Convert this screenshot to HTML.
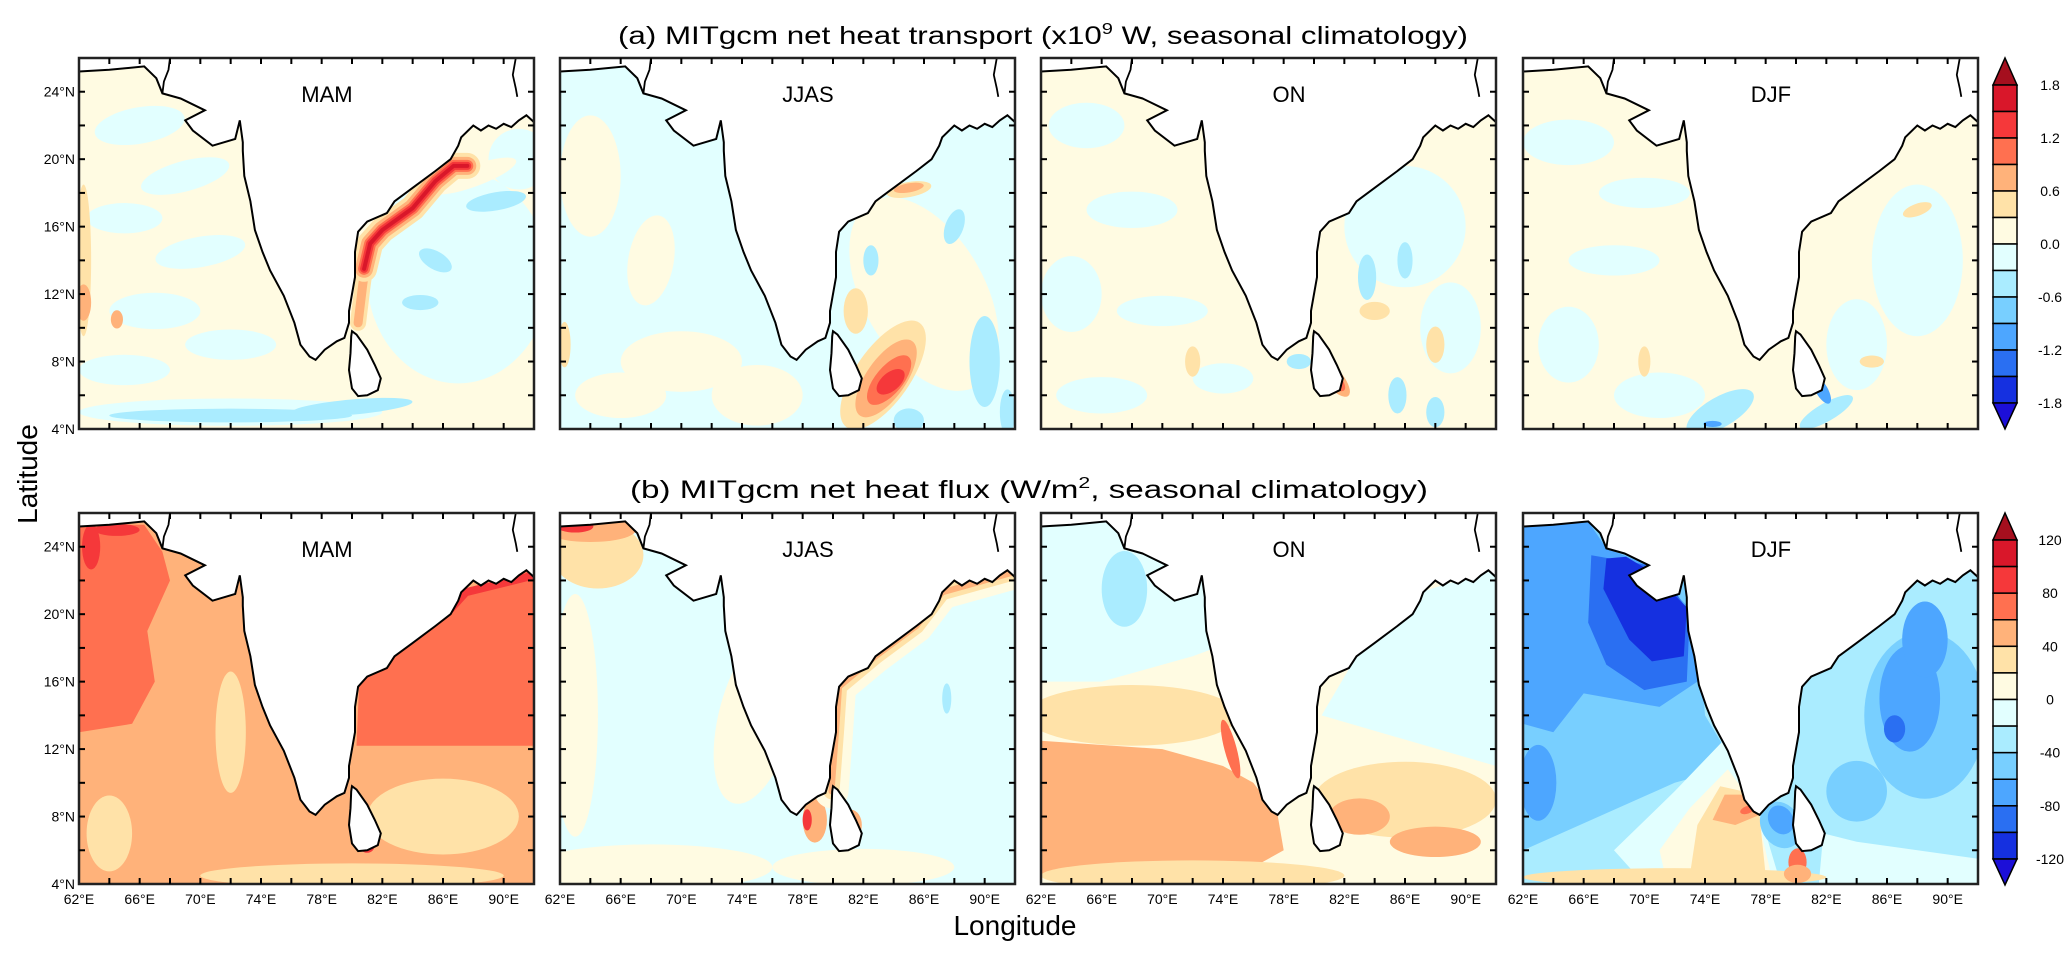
<!DOCTYPE html>
<html><head><meta charset="utf-8"><style>
html,body{margin:0;padding:0;background:#fff;}
svg{display:block;font-family:"Liberation Sans",sans-serif;}
</style></head><body>
<svg id="fig" width="2067" height="954" viewBox="0 0 2067 954" xmlns="http://www.w3.org/2000/svg">
<text x="1043" y="44" font-size="25" text-anchor="middle" textLength="850" lengthAdjust="spacingAndGlyphs">(a) MITgcm net heat transport (x10<tspan dy="-10" font-size="16">9</tspan><tspan dy="10"> W, seasonal climatology)</tspan></text>
<text x="1029" y="498" font-size="25" text-anchor="middle" textLength="798" lengthAdjust="spacingAndGlyphs">(b) MITgcm net heat flux (W/m<tspan dy="-10" font-size="16">2</tspan><tspan dy="10">, seasonal climatology)</tspan></text>
<text x="0" y="0" font-size="28" text-anchor="middle" transform="translate(37,474) rotate(-90)">Latitude</text>
<text x="1015" y="935" font-size="28" text-anchor="middle">Longitude</text>
<g id="panels"></g>
</svg>
<script>
const colors = ['#d9172a','#f5383a','#ff7050','#ffb27a','#ffe2a8','#fffbe2','#e2ffff','#aaecff','#78cfff','#4da6ff','#2a6ff2','#1530e0'];
const triTop = '#a50f1e', triBot = '#1c0fd8';
const cbLabelsA = ['1.8','1.2','0.6','0.0','-0.6','-1.2','-1.8'];
const cbLabelsB = ['120','80','40','0','-40','-80','-120'];
const seasons = ['MAM','JJAS','ON','DJF'];
const lonTicks = [62,66,70,74,78,82,86,90];
const latTicks = [4,8,12,16,20,24];
const DR=0,R=1,OR=2,O=3,LO=4,CR=5,LC=6,C=7,MB=8,B=9,DB=10,VDB=11;

const coast = [[62,26],[62,25.2],[64,25.3],[66.3,25.5],[67.1,24.8],[67.5,23.9],[68.7,23.6],[70.3,22.9],[69.0,22.3],[69.5,21.7],[70.8,20.8],[72.3,21.2],[72.6,22.3],[72.8,21.0],[72.8,20.5],[72.9,19.0],[73.3,17.5],[73.6,15.8],[74.1,14.5],[74.6,13.4],[75.5,11.9],[76.2,10.3],[76.6,9.0],[77.2,8.3],[77.6,8.1],[78.2,8.7],[79.0,9.2],[79.5,9.4],[79.8,10.3],[79.8,11.0],[80.2,13.0],[80.2,14.5],[80.4,15.7],[81.0,16.3],[82.3,16.8],[82.8,17.5],[84,18.3],[85.5,19.3],[86.5,20],[87.0,20.8],[87.2,21.3],[88.0,22.0],[88.5,21.7],[89,22.0],[89.5,21.8],[90,22.1],[90.5,21.9],[91,22.3],[91.5,22.6],[92,22.2],[92,26]];
const lanka = [[80.0,9.8],[80.3,9.6],[81.0,8.7],[81.5,7.8],[81.9,7.0],[81.7,6.3],[81.0,6.0],[80.4,5.95],[80.0,6.4],[79.8,7.5],[79.9,8.5],[79.95,9.5]];
const riverA = [[68.0,26],[67.9,25.3],[67.6,24.6],[67.5,23.9]];
const riverB = [[90.8,26],[90.6,25],[90.8,24.2],[90.9,23.7]];

const fields = [
 {base:CR, ell:[[66,22,3,1.2,-10,LC],[69,19,3,1,-15,LC],[65,16.5,2.5,1,0,LC],[70,14.5,3,1,-10,LC],[67,11,3,1.2,0,LC],[72,9,3,1,0,LC],[65,7.5,3,1,0,LC],[87,13,6,7,0,LC],[91,20,2,2,0,LC],[88,19,3,0.7,-20,CR],[89.5,17.5,2,0.6,-10,C],[85.5,14,1.2,0.6,30,C],[84.5,11.5,1.2,0.5,0,C],[72,5,10,0.9,0,LC],[72,4.8,8,0.45,0,C],[80,5.3,4,0.5,-5,C],[62.3,14,0.5,5,0,LO],[62.3,11.5,0.5,1.2,0,O],[64.5,10.5,0.4,0.6,0,O]],
  poly:[], str:[{pts:[[80.4,10.3],[80.7,12.5],[81,14.5]],w:[[LO,16],[O,9]]},{pts:[[80.8,13.5],[81.2,15],[82,15.8],[84,17.1],[85.5,18.7],[86.7,19.6],[87.6,19.6]],w:[[LO,26],[O,18],[OR,12],[R,8],[DR,4]]}]},
 {base:LC, ell:[[64,19,2,4,0,CR],[70,8,4,2,0,CR],[75,6,3,2,0,CR],[66,6,3,1.5,0,CR],[68,14,1.5,3,10,CR],[86,12,4,7,-30,CR],[85,18.2,1.5,0.5,-10,LO],[85,18.3,1,0.3,-10,O],[88,16,0.6,1.2,20,C],[84.5,20,0.5,1,-30,C],[82.5,14,0.5,1,0,C],[90,8,1,3,0,C],[83.3,7.2,4.2,1.8,-55,LO],[83.5,7.0,3,1.3,-55,O],[83.7,6.9,2,0.9,-50,OR],[83.8,6.8,1.1,0.6,-40,R],[85,4.5,1,0.8,0,C],[91.5,5,0.5,1.5,0,C],[62.3,9,0.4,1.5,0,LO],[81.5,11,0.8,1.5,0,LO]],
  poly:[], str:[]},
 {base:CR, ell:[[65,22,2.5,1.5,0,LC],[68,17,3,1.2,0,LC],[64,12,2,2.5,0,LC],[70,11,3,1,0,LC],[66,6,3,1.2,0,LC],[74,7,2,1,0,LC],[86,16,4,4,0,LC],[89,10,2,3,0,LC],[84,20,0.8,1.5,-30,C],[83.5,13,0.6,1.5,0,C],[86,14,0.5,1.2,0,C],[85.5,6,0.6,1.2,0,C],[88,5,0.6,1,0,C],[79,8,0.8,0.5,0,C],[84,11,1,0.6,0,LO],[88,9,0.6,1.2,0,LO],[72,8,0.5,1,0,LO],[81.3,7.0,0.6,1.5,-40,O],[81.4,6.9,0.4,0.9,-40,OR]],
  poly:[], str:[]},
 {base:CR, ell:[[65,21,3,1.5,0,LC],[70,18,3,1,0,LC],[68,14,3,1,0,LC],[65,9,2,2.5,0,LC],[71,6,3,1.5,0,LC],[88,14,3,5,0,LC],[84,9,2,3,0,LC],[75,5,2.5,1,-30,C],[82,5,2,0.6,-30,C],[79.5,13,0.4,1.4,0,C],[81.7,6.3,0.4,1,-30,B],[74.5,4.3,0.6,0.2,0,B],[88,17,1,0.4,-20,LO],[85,8,0.8,0.4,0,LO],[70,8,0.4,1,0,LO]],
  poly:[], str:[]},
 {base:O, ell:[[64,7,1.5,2.5,0,LO],[86,8,5,2.5,0,LO],[72,13,1,4,0,LO],[80,4.5,10,0.8,0,LO],[62.8,24,0.6,1.5,0,R],[64.5,25,1.5,0.4,0,R],[81,6.3,0.5,0.5,0,R]],
  poly:[{lvl:OR,pts:[[62,25.3],[66.3,25.3],[67.5,23.7],[68,22],[66.5,19],[67,16],[65.5,13.5],[62,13]]},{lvl:OR,pts:[[80.5,16.5],[82.5,17.5],[85.5,19.3],[87.2,21.3],[92,22.7],[92,12.2],[80.3,12.2]]}],
  str:[{pts:[[86.5,20.3],[87.5,21.3],[92,22.3]],w:[[R,8]]}]},
 {base:LC, ell:[[63,14,1.5,8,0,CR],[68,5,8,1.5,0,CR],[75,14,2.5,6,15,CR],[82,5,6,1.2,0,CR],[64.5,23.5,3,2.2,0,LO],[64,25,3,0.8,0,O],[63,25.2,1.2,0.4,0,R],[78.8,7.8,0.8,1.5,0,O],[78.3,7.8,0.3,0.7,0,R],[81.2,7.5,0.7,1,0,O],[87.5,15,0.3,1,0,C]],
  poly:[], str:[{pts:[[79.9,9.5],[80.2,13],[80.4,15.7],[82.8,17.5],[85.5,19.3],[87.2,21.3],[92,22.5]],w:[[CR,34],[LO,16],[O,6]]}]},
 {base:CR, ell:[[67.5,21.5,1.5,2.5,0,C],[68,14,7,2,0,LO],[72,4.5,10,1,0,LO],[74.5,12,0.4,2,-15,OR],[86,9,6,2.5,0,LO],[83,8,2,1.2,0,O],[88,6.5,3,1,0,O]],
  poly:[{lvl:LC,pts:[[62,26],[62,16],[66,16],[72,17.5],[73.5,18],[73,26]]},{lvl:LC,pts:[[80.5,14],[92,11],[92,22.7],[87,21.3],[82.8,17.5]]},{lvl:O,pts:[[62,4.5],[62,12.5],[70,12],[74,11],[76,10],[77.6,8.1],[78,6],[76,5],[70,4.5]]}],
  str:[]},
 {base:C, ell:[[63,10,1.2,2.5,0,B],[88.5,14,4,5.5,0,MB],[87.5,15,2,3.5,0,B],[88.5,18.5,1.5,2.5,0,B],[86.5,13.2,0.7,0.9,0,DB],[84,9.5,2,2,0,MB],[79,7.5,1.3,1.6,-30,MB],[79,7.8,0.8,1.0,-30,B],[72,4.4,10,0.6,0,LO]],
  poly:[{lvl:MB,pts:[[62,26],[73,26],[74,14],[76,11],[72,10],[62,6]]},
        {lvl:B,pts:[[62,25.3],[66.3,25.5],[67.5,23.9],[70.3,22.9],[72.8,20.5],[73.5,16],[71,14.5],[66,15.3],[64,13],[62,13.5]]},
        {lvl:DB,pts:[[66.5,23.5],[66.3,19.5],[67.5,17],[70,15.5],[72.8,16],[73,20],[71,22.8]]},
        {lvl:VDB,pts:[[67.5,23.3],[67.3,21.5],[69,18.5],[70.5,17.2],[72.6,17.5],[72.8,20.4],[70.5,22.5],[68.8,23.4]]},
        {lvl:LC,pts:[[70,4],[79,4],[78,7],[76.8,11],[75.2,12.5],[72,9.5],[68,6]]},
        {lvl:CR,pts:[[71.5,4],[78.5,4],[77.6,7.5],[76.6,9.5],[75.5,10.8],[73,8.5],[71,6]]},
        {lvl:LO,pts:[[73,4.5],[78,4.5],[77.6,8],[76.5,9.5],[75,9.8],[73.5,7.5]]},
        {lvl:O,pts:[[74.5,7.8],[76,7.5],[77.6,8.1],[76.6,9.3],[75.3,9.3]]},
        {lvl:C,pts:[[81.5,5],[92,5],[92,22.5],[88,22],[82.8,17.5],[80.4,15.7],[80.5,11]]},
        {lvl:LC,pts:[[81.5,4],[92,4],[92,5.5],[84,6.5],[81.8,7]]}],
  str:[],
  ell2:[[76.8,8.4,0.5,0.25,-20,OR],[80.1,5.3,0.6,0.9,0,OR],[80.1,4.6,0.9,0.6,0,O]]}
];

const P = {w:455,h:371};
const cols = [79,560,1041,1523];
const rows = [58,513];
const NS='http://www.w3.org/2000/svg';
const root = document.getElementById('panels');
function mk(tag, attrs, parent){const e=document.createElementNS(NS,tag);for(const k in attrs)e.setAttribute(k,attrs[k]);(parent||root).appendChild(e);return e;}
const pxPerDeg = P.w/30;

for(let r=0;r<2;r++){
 for(let c=0;c<4;c++){
  const px=cols[c], py=rows[r];
  const X=lon=>px+(lon-62)*P.w/30;
  const Y=lat=>py+(26-lat)*P.h/22;
  const pts=a=>a.map(p=>X(p[0]).toFixed(1)+','+Y(p[1]).toFixed(1)).join(' ');
  const f=fields[r*4+c];
  const g=mk('g',{});
  
  
  const cid='clip'+r+c;
  const cp=mk('clipPath',{id:cid},g); mk('rect',{x:px,y:py,width:P.w,height:P.h},cp);
  const fg=mk('g',{'clip-path':'url(#'+cid+')'},g);
  const bg=mk('rect',{x:px,y:py,width:P.w,height:P.h,fill:colors[f.base]},fg);
  
  
  const drawEll=e0=>{const [lo,la,rx,ry,rot,l]=e0;const cx=X(lo),cy=Y(la);
   const e=mk('ellipse',{cx:cx,cy:cy,rx:rx*pxPerDeg,ry:ry*pxPerDeg,transform:'rotate('+rot+' '+cx+' '+cy+')',fill:colors[l]},fg);
   
   };
  f.poly.forEach(p=>{const e=mk('polygon',{points:pts(p.pts),fill:colors[p.lvl]},fg);
   
   });
  f.ell.forEach(drawEll);
  (f.ell2||[]).forEach(drawEll);
  f.str.forEach(s=>{s.w.forEach(([l,w])=>{const e=mk('polyline',{points:pts(s.pts),fill:'none',stroke:colors[l],'stroke-width':w,'stroke-linecap':'round','stroke-linejoin':'round'},fg);
   
   });});
  const land=mk('polygon',{points:pts(coast),fill:'#fff',stroke:'#000','stroke-width':2},fg);
  
  
  const sl=mk('polygon',{points:pts(lanka),fill:'#fff',stroke:'#000','stroke-width':2},fg);
  
  
  mk('polyline',{points:pts(riverA),fill:'none',stroke:'#000','stroke-width':1.8},fg);
  mk('polyline',{points:pts(riverB),fill:'none',stroke:'#000','stroke-width':1.8},fg);
  const fr=mk('rect',{x:px,y:py,width:P.w,height:P.h,fill:'none',stroke:'#222','stroke-width':2.5},g);
  
  
  for(let lon=64;lon<92;lon+=2){mk('line',{x1:X(lon),x2:X(lon),y1:py,y2:py+6,stroke:'#000','stroke-width':2},g);mk('line',{x1:X(lon),x2:X(lon),y1:py+P.h,y2:py+P.h-6,stroke:'#000','stroke-width':2},g);}
  for(let lat=6;lat<26;lat+=2){mk('line',{x1:px,x2:px+6,y1:Y(lat),y2:Y(lat),stroke:'#000','stroke-width':2},g);mk('line',{x1:px+P.w,x2:px+P.w-6,y1:Y(lat),y2:Y(lat),stroke:'#000','stroke-width':2},g);}
  const t=mk('text',{x:px+P.w*0.545,y:py+44,'font-size':22,'text-anchor':'middle'},g);
  t.textContent=seasons[c];
  
  
  if(c===0){latTicks.forEach(lat=>{const tl=mk('text',{x:px-4,y:Y(lat)+5,'font-size':14,'text-anchor':'end'},g);tl.textContent=lat+'°N';
   
   });}
  if(r===1){lonTicks.forEach(lon=>{const tl=mk('text',{x:X(lon),y:py+P.h+20,'font-size':14,'text-anchor':'middle'},g);tl.textContent=lon+'°E';
   
   });}
 }
 const cb=mk('g',{});
 
 
 const cx0=1993,cw=24;
 const top=r===0?85:540, bot=r===0?403:859, tipT=r===0?58:513, tipB=r===0?429:885;
 const bh=(bot-top)/12;
 mk('polygon',{points:`${cx0},${top} ${cx0+cw},${top} ${cx0+cw/2},${tipT}`,fill:triTop,stroke:'#000','stroke-width':1.5},cb);
 for(let i=0;i<12;i++){mk('rect',{x:cx0,y:top+i*bh,width:cw,height:bh,fill:colors[i],stroke:'#000','stroke-width':1.5},cb);}
 mk('polygon',{points:`${cx0},${bot} ${cx0+cw},${bot} ${cx0+cw/2},${tipB}`,fill:triBot,stroke:'#000','stroke-width':1.5},cb);
 const labs=r===0?cbLabelsA:cbLabelsB;
 labs.forEach((s,i)=>{const tl=mk('text',{x:2050,y:top+i*2*bh+5,'font-size':14,'text-anchor':'middle'},cb);tl.textContent=s;
  
  });
}
</script>
</body></html>
